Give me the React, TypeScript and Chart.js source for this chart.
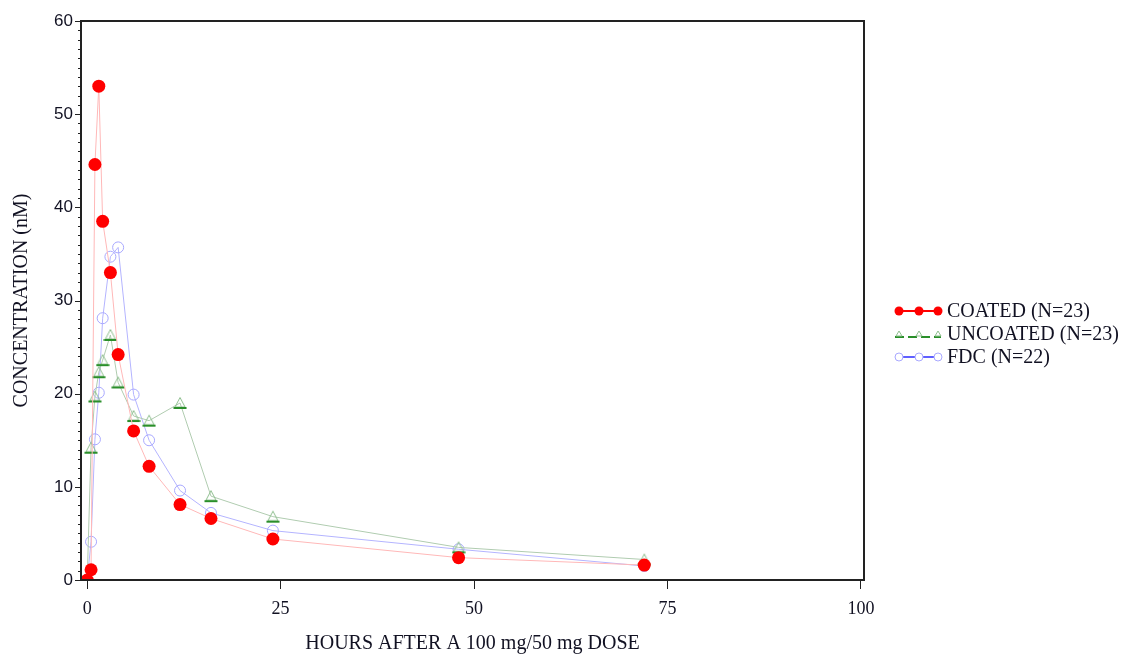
import React, { useEffect, useRef } from 'react';
import { Chart, registerables } from 'chart.js';
Chart.register(...registerables);

const hours = [0, 0.5, 1, 1.5, 2, 3, 4, 6, 8, 12, 16, 24, 48, 72];
const coated = [0, 1.1, 44.6, 53.0, 38.5, 33.0, 24.2, 16.0, 12.2, 8.1, 6.6, 4.4, 2.4, 1.6];
const uncoated = [0, 14.2, 19.7, 22.3, 23.6, 26.3, 21.2, 17.6, 17.1, 19.0, 9.0, 6.8, 3.5, 2.2];
const fdc = [0, 4.1, 15.1, 20.1, 28.1, 34.7, 35.7, 19.9, 15.0, 9.6, 7.2, 5.3, 3.3, 1.5];
const seriesLabels = ['COATED (N=23)', 'UNCOATED (N=23)', 'FDC (N=22)'];
const xTicks = [0, 25, 50, 75, 100];
const yMajorStep = 10;
const yMinorStep = 1;
const xTitle = 'HOURS AFTER A 100 mg/50 mg DOSE';
const yTitle = 'CONCENTRATION (nM)';

const SERIF = '"Liberation Serif", "Times New Roman", serif';
const SANS = '"Liberation Sans", Arial, sans-serif';

function makeCanvas(w: number, h: number, draw: (c: CanvasRenderingContext2D) => void) {
  const cv = document.createElement('canvas');
  cv.width = w;
  cv.height = h;
  const c = cv.getContext('2d')!;
  draw(c);
  return cv;
}

function triangleMarker() {
  return makeCanvas(14, 14, (c) => {
    c.strokeStyle = '#8fbf8f';
    c.lineWidth = 1;
    c.beginPath();
    c.moveTo(7, 1.5);
    c.lineTo(2, 11);
    c.lineTo(12, 11);
    c.closePath();
    c.stroke();
    c.strokeStyle = '#2a8f2a';
    c.lineWidth = 2;
    c.beginPath();
    c.moveTo(0.5, 12);
    c.lineTo(13.5, 12);
    c.stroke();
  });
}

function legendCoated() {
  return makeCanvas(50, 14, (c) => {
    c.strokeStyle = '#ff0000';
    c.lineWidth = 2;
    c.beginPath();
    c.moveTo(3, 7);
    c.lineTo(46, 7);
    c.stroke();
    c.fillStyle = '#ff0000';
    [5, 25, 44].forEach((x) => {
      c.beginPath();
      c.arc(x, 7, 4.5, 0, Math.PI * 2);
      c.fill();
    });
  });
}

function legendUncoated() {
  return makeCanvas(50, 14, (c) => {
    c.strokeStyle = '#2a8f2a';
    c.lineWidth = 2;
    c.setLineDash([9, 4]);
    c.beginPath();
    c.moveTo(1, 10);
    c.lineTo(47, 10);
    c.stroke();
    c.setLineDash([]);
    c.strokeStyle = '#8fbf8f';
    c.lineWidth = 1;
    [5, 25, 44].forEach((x) => {
      c.beginPath();
      c.moveTo(x, 4);
      c.lineTo(x - 3, 9);
      c.lineTo(x + 3, 9);
      c.closePath();
      c.stroke();
    });
  });
}

function legendFdc() {
  return makeCanvas(50, 14, (c) => {
    c.strokeStyle = '#2b2bff';
    c.lineWidth = 1.5;
    c.beginPath();
    c.moveTo(1, 7);
    c.lineTo(47, 7);
    c.stroke();
    c.strokeStyle = '#a8a8ff';
    c.fillStyle = '#ffffff';
    c.lineWidth = 1;
    [5, 25, 44].forEach((x) => {
      c.beginPath();
      c.arc(x, 7, 4, 0, Math.PI * 2);
      c.fill();
      c.stroke();
    });
  });
}

export default function App() {
  const ref = useRef<HTMLCanvasElement | null>(null);

  useEffect(() => {
    if (!ref.current) return;
    const tri = triangleMarker();
    const legendImgs = [legendCoated(), legendUncoated(), legendFdc()];

    const boxPlugin = {
      id: 'boxAndLegend',
      afterDraw(chart: any) {
        const { ctx, chartArea } = chart;
        const { left, right, top, bottom } = chartArea;
        const ys = chart.scales.y;
        ctx.save();
        // frame
        ctx.strokeStyle = '#222';
        ctx.lineWidth = 2;
        ctx.strokeRect(left, top, right - left, bottom - top);
        // y ticks (major + minor)
        ctx.lineWidth = 1;
        for (let v = ys.min; v <= ys.max + 1e-9; v += yMinorStep) {
          const y = Math.round(ys.getPixelForValue(v)) + 0.5;
          const major = Math.abs(v % yMajorStep) < 1e-9;
          ctx.beginPath();
          ctx.moveTo(left - (major ? 6 : 3), y);
          ctx.lineTo(left, y);
          ctx.stroke();
        }
        // legend
        const rows = [311, 334, 357];
        ctx.font = '20px ' + SERIF;
        ctx.fillStyle = '#111122';
        ctx.textBaseline = 'middle';
        ctx.textAlign = 'left';
        seriesLabels.forEach((label, i) => {
          ctx.drawImage(legendImgs[i], 894, rows[i] - 7);
          ctx.fillText(label, 947, rows[i] + 1);
        });
        ctx.restore();
      },
    };

    const chart = new Chart(ref.current, {
      type: 'line',
      data: {
        datasets: [
          {
            label: seriesLabels[0],
            data: hours.map((h, i) => ({ x: h, y: coated[i] })),
            borderColor: '#ffb8b8',
            borderWidth: 1,
            pointStyle: 'circle',
            pointRadius: 6.5,
            pointBackgroundColor: '#ff0000',
            pointBorderColor: '#ff0000',
            pointBorderWidth: 0,
            tension: 0,
          },
          {
            label: seriesLabels[1],
            data: hours.map((h, i) => ({ x: h, y: uncoated[i] })),
            borderColor: '#b0ccb0',
            borderWidth: 1,
            pointStyle: tri as any,
            pointRadius: 7,
            tension: 0,
          },
          {
            label: seriesLabels[2],
            data: hours.map((h, i) => ({ x: h, y: fdc[i] })),
            borderColor: '#b4b4ff',
            borderWidth: 1,
            pointStyle: 'circle',
            pointRadius: 5.5,
            pointBackgroundColor: 'rgba(0,0,0,0)',
            pointBorderColor: '#a8a8ff',
            pointBorderWidth: 1,
            tension: 0,
          },
        ],
      },
      options: {
        animation: false,
        responsive: true,
        maintainAspectRatio: false,
        layout: { padding: { top: 21, right: 262, left: 0, bottom: 0 } },
        plugins: {
          legend: { display: false },
          tooltip: { enabled: false },
        },
        scales: {
          x: {
            type: 'linear',
            min: -0.8,
            max: 100.4,
            afterBuildTicks: (s: any) => {
              s.ticks = xTicks.map((v) => ({ value: v }));
            },
            afterFit: (s: any) => {
              s.height = 76;
            },
            border: { display: false },
            grid: {
              drawOnChartArea: false,
              drawTicks: true,
              tickLength: 9,
              tickColor: '#222',
              tickWidth: 1,
            },
            ticks: {
              autoSkip: false,
              maxRotation: 0,
              padding: 9,
              color: '#111122',
              font: { family: SERIF, size: 18 },
            },
            title: {
              display: true,
              text: xTitle,
              color: '#111122',
              font: { family: SERIF, size: 20 },
              padding: { top: 0, bottom: 0 },
            },
          },
          y: {
            type: 'linear',
            min: 0,
            max: 60,
            afterFit: (s: any) => {
              s.width = 81;
            },
            border: { display: false },
            grid: { drawOnChartArea: false, drawTicks: false },
            ticks: {
              stepSize: yMajorStep,
              padding: 8,
              color: '#111122',
              font: { family: SANS, size: 17 },
            },
            title: {
              display: true,
              text: yTitle,
              color: '#111122',
              font: { family: SERIF, size: 20 },
              padding: { top: 10, bottom: 0 },
            },
          },
        },
      },
      plugins: [boxPlugin],
    });
    return () => chart.destroy();
  }, []);

  return (
    <div style={{ position: 'fixed', left: 0, top: 0, width: 1126, height: 656, background: '#fff' }}>
      <canvas ref={ref} />
    </div>
  );
}
